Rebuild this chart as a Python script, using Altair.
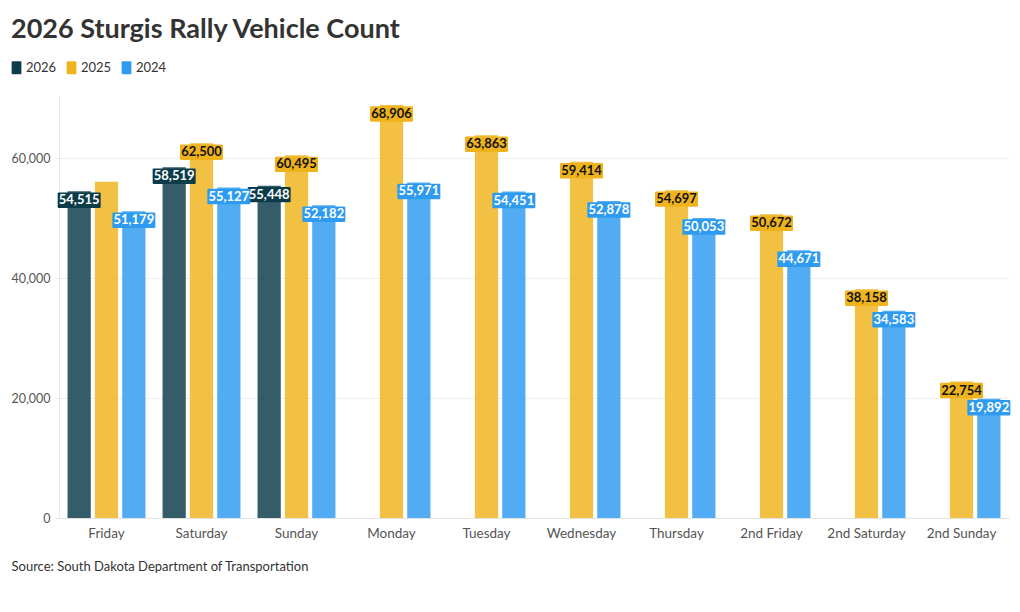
import altair as alt
import pandas as pd

days = ["Friday", "Saturday", "Sunday", "Monday", "Tuesday", "Wednesday",
        "Thursday", "2nd Friday", "2nd Saturday", "2nd Sunday"]
v2026 = [54515, 58519, 55448, None, None, None, None, None, None, None]
v2025 = [56100, 62500, 60495, 68906, 63863, 59414, 54697, 50672, 38158, 22754]
v2024 = [51179, 55127, 52182, 55971, 54451, 52878, 50053, 44671, 34583, 19892]
years = ["2026", "2025", "2024"]
colors = ["#0c3c4a", "#efb31d", "#2e9bf0"]
unlabeled = [("Friday", "2025")]

rows = []
for yr, vals in zip(years, [v2026, v2025, v2024]):
    for d, v in zip(days, vals):
        if v is not None:
            rows.append({"day": d, "year": yr, "value": v,
                         "show": (d, yr) not in unlabeled})
df = pd.DataFrame(rows)

FONT = "Lato"

x_enc = alt.X("day:N", sort=days,
              scale=alt.Scale(paddingInner=0.18, paddingOuter=0.09),
              axis=alt.Axis(title="Source: South Dakota Department of Transportation",
                            titleAnchor="start", titleAlign="left", titleX=-48, titleY=48,
                            titleBaseline="middle", titleFontSize=13, titleFontWeight="normal",
                            titleColor="#333333", titleFont=FONT,
                            labelFontSize=13.5, labelColor="#555555", labelFont=FONT,
                            labelPadding=8, ticks=False, domainColor="#e4e4e4", labelAngle=0))
xo_enc = alt.XOffset("year:N", sort=years,
                     scale=alt.Scale(domain=years, paddingInner=0.15, paddingOuter=0))
y_enc = alt.Y("value:Q", scale=alt.Scale(domain=[0, 70400], nice=False),
              axis=alt.Axis(title=None, values=[0, 20000, 40000, 60000], format=",.0f",
                            labelFontSize=12.5, labelColor="#555555", labelFont=FONT,
                            labelPadding=5, tickSize=4, tickColor="#e8e8e8",
                            domainColor="#e8e8e8", gridColor="#efefef"))
color_enc = alt.Color("year:N", sort=years,
                      scale=alt.Scale(domain=years, range=colors),
                      legend=alt.Legend(title=None, orient="none", direction="horizontal",
                                        legendX=-49, legendY=-35,
                                        symbolType="M-0.75,-0.85Q-0.75,-1,-0.6,-1H0.6Q0.75,-1,0.75,-0.85V0.85Q0.75,1,0.6,1H-0.6Q-0.75,1,-0.75,0.85Z",
                                        symbolSize=169, symbolOpacity=1, symbolStrokeWidth=0,
                                        labelFontSize=13, labelColor="#333333", labelFont=FONT,
                                        labelOffset=3, columnPadding=8))

bars = alt.Chart(df).mark_bar(opacity=0.83).encode(
    x=x_enc, xOffset=xo_enc, y=y_enc, color=color_enc
)

lab = alt.Chart(df).transform_filter(alt.datum.show)

boxes = lab.mark_point(
    shape="M-0.95,-0.36H0.95Q1,-0.36,1,-0.31V0.31Q1,0.36,0.95,0.36H-0.95Q-1,0.36,-1,0.31V-0.31Q-1,-0.36,-0.95,-0.36Z",
    filled=True, size=1850, opacity=1, yOffset=9
).encode(
    x=x_enc, xOffset=xo_enc, y=y_enc, color=color_enc
)

texts = lab.mark_text(
    font=FONT, fontSize=13, fontWeight="bold", baseline="middle", align="center", yOffset=9
).encode(
    x=x_enc, xOffset=xo_enc, y=y_enc,
    text=alt.Text("value:Q", format=","),
    color=alt.condition(alt.datum.year == "2025", alt.value("#111111"), alt.value("#ffffff"))
)

chart = alt.layer(bars, boxes, texts).properties(
    width=950, height=422,
    autosize=alt.AutoSizeParams(type="none"),
    padding={"left": 51, "top": 88, "right": 3, "bottom": 70},
    title=alt.Title("2026 Sturgis Rally Vehicle Count", anchor="start", frame="group",
                    dx=-48, offset=17, fontSize=27, fontWeight="bold", color="#333333",
                    font=FONT),
).configure(background="white").configure_view(stroke=None)

chart.save("out.html", embed_options={"renderer": "svg", "actions": False})
